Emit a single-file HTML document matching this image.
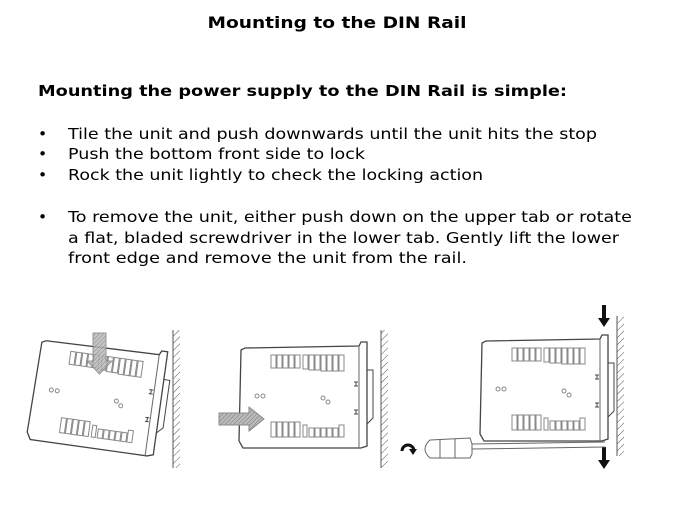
<!DOCTYPE html>
<html><head><style>
html,body{margin:0;padding:0;background:#fff;width:675px;height:506px;overflow:hidden}
svg{display:block}
text{font-family:"DejaVu Sans","Liberation Sans",sans-serif;fill:#000}
</style></head><body>
<svg width="675" height="506" viewBox="0 0 675 506" xmlns="http://www.w3.org/2000/svg">
<defs>
<pattern id="h" width="5" height="5" patternUnits="userSpaceOnUse" patternTransform="rotate(45)">
<line x1="0" y1="0" x2="0" y2="5" stroke="#555" stroke-width="1"/></pattern>
<pattern id="ha" width="3" height="3" patternUnits="userSpaceOnUse" patternTransform="rotate(45)">
<rect width="3" height="3" fill="#bbb"/><line x1="0" y1="0" x2="0" y2="3" stroke="#777" stroke-width="1"/></pattern>
<g id="unit">
<path d="M6,6 L120,4 L122,0 L128,0 L128,104 L122,106 L4,106 L0,99 L2,8 Z" fill="#fff" stroke="#444" stroke-width="1.3"/>
<line x1="120" y1="4" x2="120" y2="106" stroke="#666"/>
<g fill="none" stroke="#888" stroke-width="1">
<rect x="32" y="13" width="5" height="13"/><rect x="38" y="13" width="5" height="13"/><rect x="44" y="13" width="5" height="13"/><rect x="50" y="13" width="5" height="13"/><rect x="56" y="13" width="5" height="13"/>
<rect x="64" y="13" width="5" height="14"/><rect x="70" y="13" width="5" height="15"/><rect x="76" y="13" width="5" height="15"/><rect x="82" y="13" width="5" height="16"/><rect x="88" y="13" width="5" height="16"/><rect x="94" y="13" width="5" height="16"/><rect x="100" y="13" width="5" height="16"/>
<rect x="32" y="80" width="5" height="15"/><rect x="38" y="80" width="5" height="15"/><rect x="44" y="80" width="5" height="15"/><rect x="50" y="80" width="5" height="15"/><rect x="56" y="80" width="5" height="15"/>
<rect x="64" y="83" width="4" height="12"/><rect x="70" y="86" width="5" height="9"/><rect x="76" y="86" width="5" height="9"/><rect x="82" y="86" width="5" height="9"/><rect x="88" y="86" width="5" height="9"/><rect x="94" y="86" width="5" height="9"/><rect x="100" y="83" width="5" height="12"/>
<circle cx="18" cy="54" r="2"/><circle cx="24" cy="54" r="2"/><circle cx="84" cy="56" r="2"/><circle cx="89" cy="60" r="2"/>
</g>
<path d="M128,28 L134,28 L134,76 L128,82" fill="none" stroke="#444"/>
<path d="M115,40 h4 M117,40 v4 M115,44 h4 M115,68 h4 M117,68 v4 M115,72 h4" stroke="#444"/>
</g>
</defs>

<text x="337" y="28" text-anchor="middle" font-size="16" font-weight="bold" textLength="259" lengthAdjust="spacingAndGlyphs">Mounting to the DIN Rail</text>
<text x="38" y="96" font-size="15" font-weight="bold" textLength="529" lengthAdjust="spacingAndGlyphs">Mounting the power supply to the DIN Rail is simple:</text>
<g font-size="15.5">
<text x="38" y="139">•</text><text x="68" y="139" textLength="529" lengthAdjust="spacingAndGlyphs">Tile the unit and push downwards until the unit hits the stop</text>
<text x="38" y="159">•</text><text x="68" y="159" textLength="297" lengthAdjust="spacingAndGlyphs">Push the bottom front side to lock</text>
<text x="38" y="180">•</text><text x="68" y="180" textLength="415" lengthAdjust="spacingAndGlyphs">Rock the unit lightly to check the locking action</text>
<text x="38" y="222">•</text><text x="68" y="222" textLength="564" lengthAdjust="spacingAndGlyphs">To remove the unit, either push down on the upper tab or rotate</text>
<text x="68" y="243" textLength="551" lengthAdjust="spacingAndGlyphs">a flat, bladed screwdriver in the lower tab. Gently lift the lower</text>
<text x="68" y="263" textLength="399" lengthAdjust="spacingAndGlyphs">front edge and remove the unit from the rail.</text>
</g>

<rect x="173" y="330" width="7" height="138" fill="url(#h)"/><line x1="173" y1="330" x2="173" y2="468" stroke="#555"/>
<rect x="381" y="330" width="7" height="138" fill="url(#h)"/><line x1="381" y1="330" x2="381" y2="468" stroke="#555"/>
<rect x="617" y="316" width="7" height="140" fill="url(#h)"/><line x1="617" y1="316" x2="617" y2="456" stroke="#555"/>

<g transform="translate(41,334) rotate(8)"><use href="#unit"/></g>
<path d="M93,333 h13 v28 h6 l-12.5,13 l-12.5,-13 h6 z" fill="url(#ha)" stroke="#888" opacity="0.85"/>

<g transform="translate(239,342)"><use href="#unit"/></g>
<path d="M219,413 h30 v-6 l15,12 l-15,12 v-6 h-30 z" fill="url(#ha)" stroke="#888"/>

<g transform="translate(480,335)"><use href="#unit"/></g>
<path d="M602,305 h4 v13 h4 l-6,9 l-6,-9 h4 z" fill="#111"/>
<path d="M602,447 h4 v13 h4 l-6,9 l-6,-9 h4 z" fill="#111"/>
<g fill="#fff" stroke="#666">
<path d="M430,440 L470,438 L472,444 L472,454 L470,458 L430,458 Q420,449 430,440 Z"/>
<line x1="472" y1="444" x2="605" y2="442"/><line x1="472" y1="449" x2="605" y2="447"/>
<line x1="440" y1="440" x2="440" y2="458"/><line x1="455" y1="439" x2="455" y2="458"/>
</g>
<path d="M402,451 a6,6 0 1 1 12,0" fill="none" stroke="#111" stroke-width="3"/>
<path d="M409,449 l8,0 l-4,6 z" fill="#111"/>
</svg>
</body></html>
